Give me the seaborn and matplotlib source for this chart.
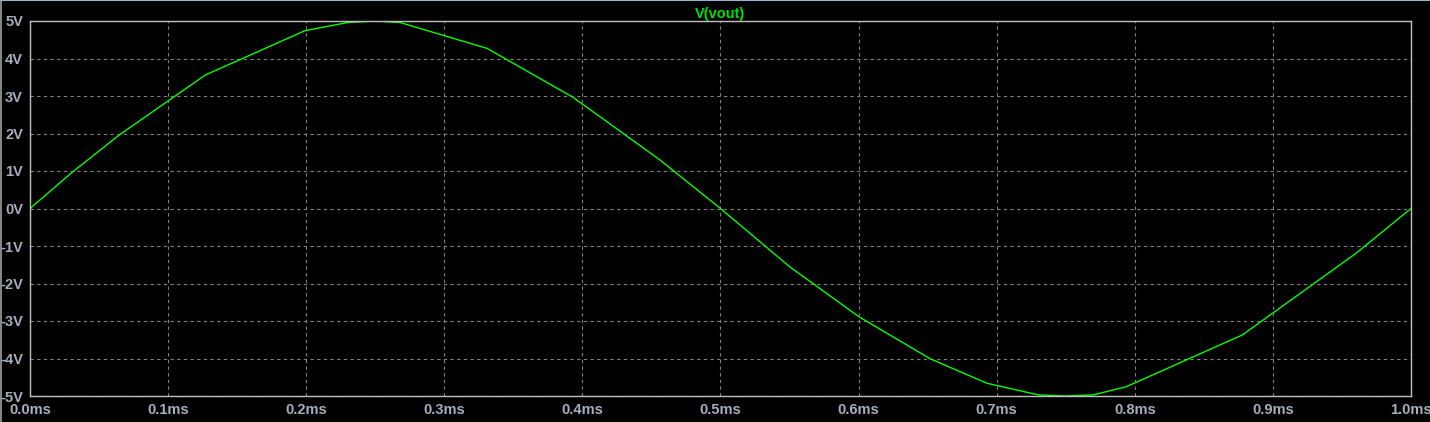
import pandas as pd
import seaborn as sns
import matplotlib.pyplot as plt
from matplotlib.ticker import FuncFormatter

# time points (ms) and node voltage
time_ms = [0.0, 0.031, 0.065, 0.127, 0.199, 0.230, 0.250, 0.268, 0.331, 0.393,
           0.430, 0.456, 0.500, 0.550, 0.600, 0.652, 0.693, 0.730, 0.750, 0.770,
           0.794, 0.878, 0.929, 0.960, 1.000]
vout = [0.0, 0.98, 1.97, 3.56, 4.74, 4.96, 5.0, 4.96, 4.27, 2.97,
        1.99, 1.30, 0.0, -1.55, -2.88, -4.01, -4.66, -4.97, -5.0, -4.97,
        -4.75, -3.37, -2.02, -1.20, 0.0]

x_ticks = [0.0, 0.1, 0.2, 0.3, 0.4, 0.5, 0.6, 0.7, 0.8, 0.9, 1.0]
y_ticks = [-5, -4, -3, -2, -1, 0, 1, 2, 3, 4, 5]

df = pd.DataFrame({'t': time_ms, 'v': vout})

sns.set_style('dark')
plt.rcParams['font.family'] = ['Liberation Sans', 'DejaVu Sans']

fig = plt.figure(figsize=(14.30, 4.22), dpi=100, facecolor='black')
ax = fig.add_axes([30 / 1430, 26 / 422, 1381 / 1430, 375 / 422])
ax.set_facecolor('black')

sns.lineplot(data=df, x='t', y='v', color='#00ff00', linewidth=1.0, ax=ax)

ax.set_xlim(0, 1.0)
ax.set_ylim(-5, 5)
ax.set_xticks(x_ticks)
ax.set_yticks(y_ticks)
ax.xaxis.set_major_formatter(FuncFormatter(lambda v, p: f'{v:.1f}ms'))
ax.yaxis.set_major_formatter(FuncFormatter(lambda v, p: f'{v:.0f}V'))
ax.grid(True, color='#808080', linestyle=(0, (3, 3)), linewidth=0.8)
for s in ax.spines.values():
    s.set_visible(True)
    s.set_color('#c0c0c0')
    s.set_linewidth(1.0)
ax.tick_params(colors='#c0c0c0', length=4, width=1, direction='out',
               labelcolor='#a4aebc', labelsize=10.5, pad=1)
for lab in ax.get_xticklabels() + ax.get_yticklabels():
    lab.set_fontweight('bold')
ax.set_xlabel('')
ax.set_ylabel('')
ax.set_title('V(vout)', color='#00e000', fontsize=10.5, fontweight='bold', pad=2)

# window frame edges
fig.add_artist(plt.Line2D([0, 1], [0.999, 0.999], color='#9fb4cc', linewidth=1.5))
fig.add_artist(plt.Line2D([0.0005, 0.0005], [0, 1], color='#a0a0a0', linewidth=1.2))

fig.savefig('out.png', dpi=100, facecolor='black')
